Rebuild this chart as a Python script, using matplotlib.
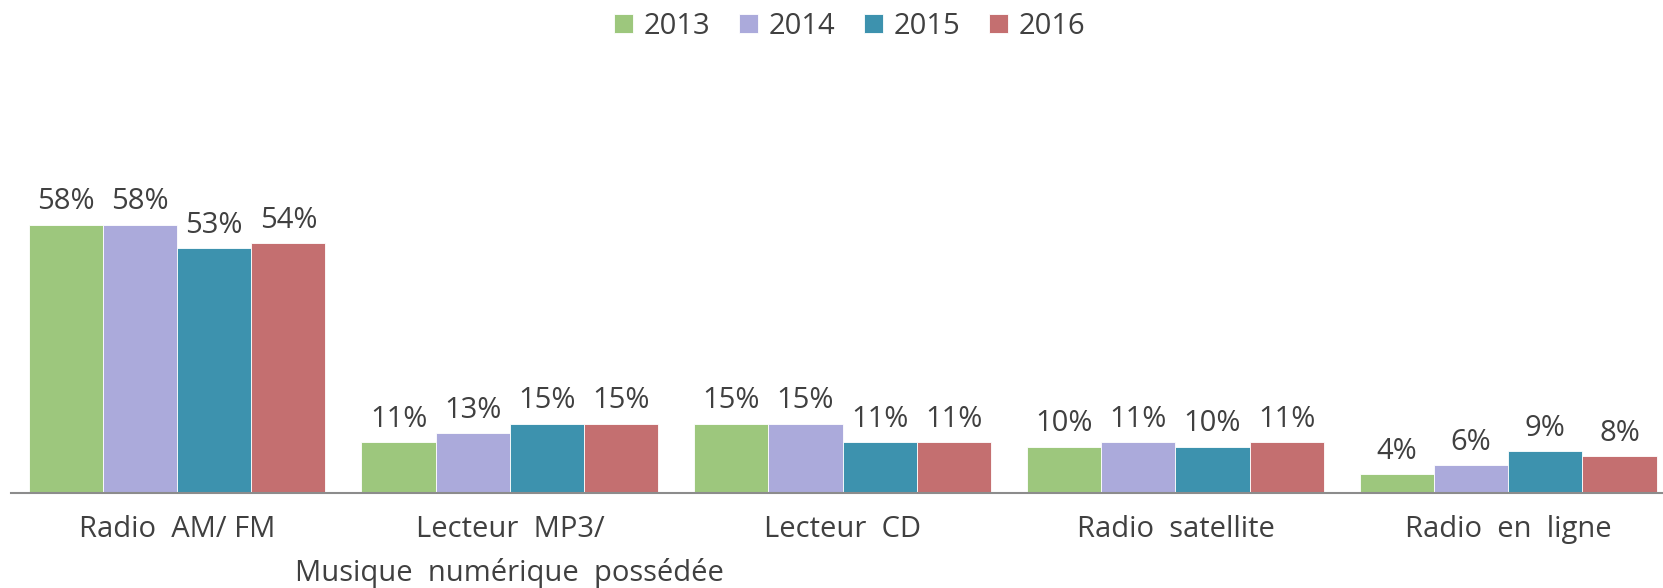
import numpy as np
import matplotlib.pyplot as plt

plt.rcParams['font.family'] = ['Open Sans', 'DejaVu Sans']

categories = ['Radio  AM/ FM', 'Lecteur  MP3/\nMusique  numérique  possédée',
              'Lecteur  CD', 'Radio  satellite', 'Radio  en  ligne']
years = ['2013', '2014', '2015', '2016']
v2013 = [58, 11, 15, 10, 4]
v2014 = [58, 13, 15, 11, 6]
v2015 = [53, 15, 11, 10, 9]
v2016 = [54, 15, 11, 11, 8]
colors = ['#9dc77d', '#abaadb', '#3d92ae', '#c46f70']
text_color = '#404040'

fig = plt.figure(figsize=(16.63, 5.88), dpi=100)
ax = fig.add_axes([0.0064, 0.1616, 1.0006, 0.8384])

x = np.arange(len(categories))
width = 0.223
for i, vals in enumerate([v2013, v2014, v2015, v2016]):
    pos = x + (i - 1.5) * width
    bars = ax.bar(pos, vals, width, color=colors[i], label=years[i],
                  edgecolor='white', linewidth=0.6)
    for b, v in zip(bars, vals):
        ax.annotate(f'{v}%', (b.get_x() + b.get_width() / 2, v),
                    xytext=(0, 6), textcoords='offset points',
                    ha='center', va='bottom', fontsize=21, color=text_color)

ax.set_xlim(-0.5, 4.5)
ax.set_ylim(0, 106.6)
for s in ['top', 'right', 'left']:
    ax.spines[s].set_visible(False)
ax.spines['bottom'].set_color('#8c8c8c')
ax.spines['bottom'].set_linewidth(1.5)
ax.set_yticks([])
ax.set_xticks(x)
ax.set_xticklabels(categories, fontsize=21, color=text_color, linespacing=1.62)
ax.tick_params(axis='x', length=0, pad=16)

ax.legend(loc='upper center', bbox_to_anchor=(0.511, 1.025), bbox_transform=fig.transFigure,
          ncol=4, frameon=False, fontsize=21, handlelength=0.65, handleheight=0.65,
          handletextpad=0.35, columnspacing=1.0, labelcolor=text_color)

fig.savefig('out.png', dpi=100)
